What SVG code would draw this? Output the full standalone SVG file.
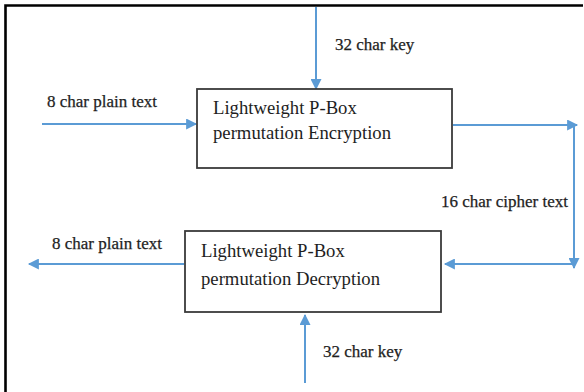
<svg xmlns="http://www.w3.org/2000/svg" width="584" height="392" viewBox="0 0 584 392">
  <style>
    .box { fill: #ffffff; stroke: #3a3a3a; stroke-width: 1.8; }
    .title { font-family: "Liberation Serif", "Times New Roman", serif; font-size: 18.7px; fill: #1e1e1e; }
    .label { font-family: "Liberation Serif", "Times New Roman", serif; font-size: 17px; fill: #1e1e1e; stroke: #1e1e1e; stroke-width: 0.25; }
    .wire { fill: none; stroke: #5b9bd5; stroke-width: 2; }
    .frame { fill: none; stroke: #000000; stroke-width: 2.6; }
  </style>
  <defs>
    <marker id="arrow" viewBox="0 0 10 10" refX="9" refY="5" markerWidth="6" markerHeight="5.5" orient="auto" markerUnits="strokeWidth">
      <path d="M0,0 L10,5 L0,10 z" fill="#5b9bd5"/>
    </marker>
  </defs>

  <rect width="584" height="392" fill="#ffffff"/>
  <!-- outer frame (top and left edges) -->
  <polyline class="frame" points="5.5,392 5.5,5.5 583,5.5"/>

  <g id="connectors">
    <!-- key into encryption -->
    <line class="wire" x1="316" y1="7" x2="316" y2="89" marker-end="url(#arrow)"/>
    <!-- plain text into encryption -->
    <line class="wire" x1="42" y1="124" x2="196" y2="124" marker-end="url(#arrow)"/>
    <!-- cipher text path -->
    <line class="wire" x1="453" y1="125" x2="577" y2="125" marker-end="url(#arrow)"/>
    <line class="wire" x1="574" y1="125" x2="574" y2="268" marker-end="url(#arrow)"/>
    <line class="wire" x1="574" y1="264" x2="445" y2="264" marker-end="url(#arrow)"/>
    <!-- plain text out of decryption -->
    <line class="wire" x1="184" y1="264" x2="29" y2="264" marker-end="url(#arrow)"/>
    <!-- key into decryption -->
    <line class="wire" x1="305" y1="383" x2="305" y2="315" marker-end="url(#arrow)"/>
  </g>

  <g id="encryption">
    <rect class="box" x="197" y="89" width="255" height="79"/>
    <text class="title" x="213" y="114">Lightweight P-Box</text>
    <text class="title" x="213" y="139">permutation Encryption</text>
  </g>

  <g id="decryption">
    <rect class="box" x="185" y="231" width="256" height="81"/>
    <text class="title" x="201" y="257">Lightweight P-Box</text>
    <text class="title" x="201" y="285">permutation Decryption</text>
  </g>

  <g id="labels">
    <text class="label" x="335" y="50">32 char key</text>
    <text class="label" x="47" y="107">8 char plain text</text>
    <text class="label" x="441" y="207">16 char cipher text</text>
    <text class="label" x="52" y="249">8 char plain text</text>
    <text class="label" x="323" y="357">32 char key</text>
  </g>
</svg>
